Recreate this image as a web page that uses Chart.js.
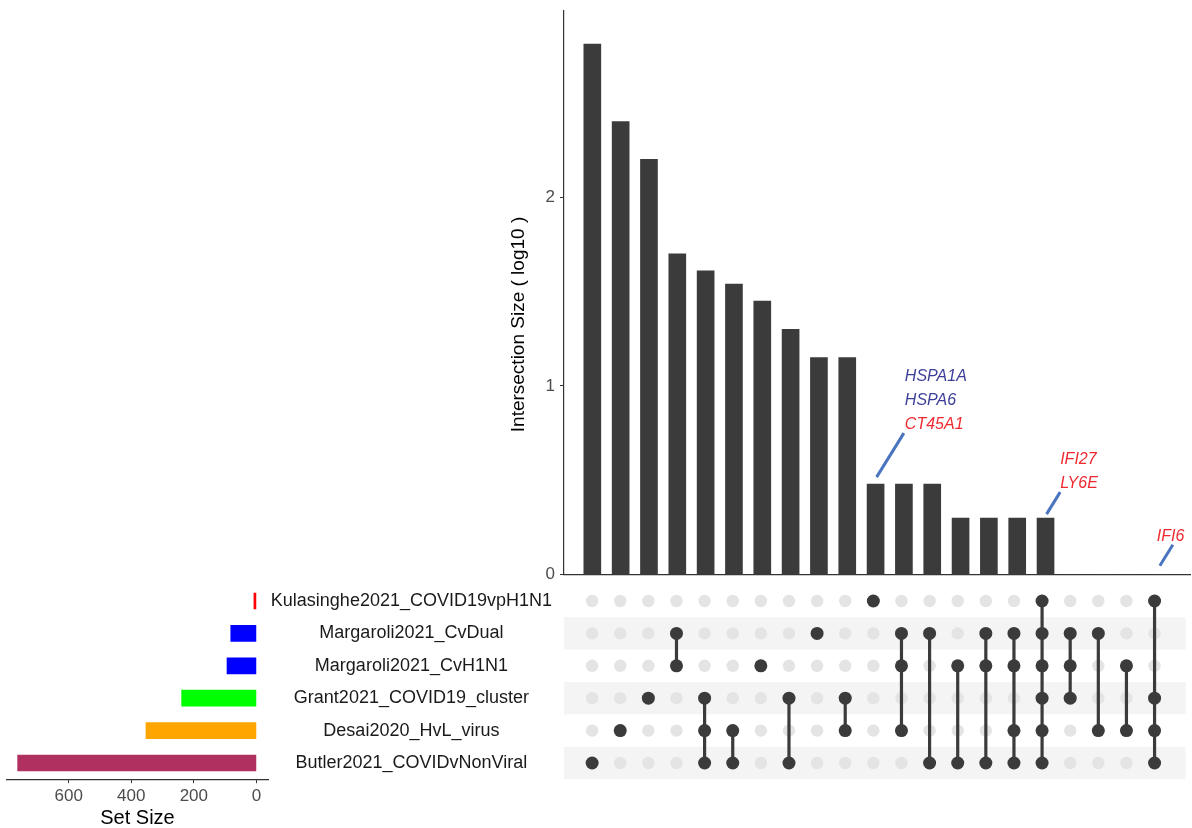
<!DOCTYPE html>
<html>
<head>
<meta charset="utf-8">
<script src="https://cdn.jsdelivr.net/npm/chart.js@4.4.1/dist/chart.umd.min.js"></script>
<style>
  html, body { margin: 0; padding: 0; background: #fff; }
  #wrap { position: relative; width: 1192px; height: 828px; overflow: hidden; }
  canvas { position: absolute; }
  #barsChart { left: 500px; top: -5px; }
  #matrixChart { left: 262px; top: 562px; }
  #setChart { left: 0px; top: 580px; }
</style>
</head>
<body>
<div id="wrap">
  <canvas id="barsChart" width="692" height="595"></canvas>
  <canvas id="matrixChart" width="930" height="240"></canvas>
  <canvas id="setChart" width="270" height="251"></canvas>
</div>
<script>
// UpSet plot - intersection sizes, membership matrix and set sizes

// Sets, listed top to bottom as in the matrix
const setNames = [
    'Kulasinghe2021_COVID19vpH1N1',
    'Margaroli2021_CvDual',
    'Margaroli2021_CvH1N1',
    'Grant2021_COVID19_cluster',
    'Desai2020_HvL_virus',
    'Butler2021_COVIDvNonViral'
];
const setSizes = [8, 82, 94, 239, 353, 763];
const setColors = ['#ff0000', '#0000ff', '#0000ff', '#00ff00', '#ffa500', '#b03060'];
const setSizeTicks = [0, 200, 400, 600];

// Intersections (columns), log10 of size, and which sets (row index) take part
const intersectionLog10 = [2.81, 2.40, 2.20, 1.70, 1.61, 1.54, 1.45, 1.30, 1.15, 1.15,
                           0.48, 0.48, 0.48, 0.30, 0.30, 0.30, 0.30, 0, 0, 0, 0];
const intersectionMembers = [
    [5], [4], [3], [1, 2], [3, 4, 5], [4, 5], [2], [3, 5], [1], [3, 4],
    [0], [1, 2, 4], [1, 5], [2, 5], [1, 2, 5], [1, 2, 4, 5], [0, 1, 2, 3, 4, 5],
    [1, 2, 3], [1, 4], [2, 4], [0, 3, 4, 5]
];
const intersectionTicks = [0, 1, 2];

// Gene labels on some intersections
const labelColumns = [10, 16, 20];
const labelGenes = [['HSPA1A', 'HSPA6', 'CT45A1'], ['IFI27', 'LY6E'], ['IFI6']];
const geneColors = {
    HSPA1A: '#3b3d99', HSPA6: '#3b3d99',
    CT45A1: '#ee2a30', IFI27: '#ee2a30', LY6E: '#ee2a30', IFI6: '#ee2a30'
};

// leader line styling per label
const leaderGap = [7, 4, 9];
const leaderLen = [44, 22, 21];
const textShift = [1, 0, -16];

const FONT = '"Liberation Sans", Arial, Helvetica, sans-serif';
Chart.defaults.font.family = FONT;
Chart.defaults.animation = false;

const columns = intersectionLog10.map((_, i) => i + 1);
const X_MIN = 0, X_MAX = 22.1;

// ---------- top: intersection size bars ----------
const leaderPlugin = {
    id: 'leaders',
    afterDatasetsDraw(chart) {
        const ctx = chart.ctx;
        const bars = chart.getDatasetMeta(0).data;
        labelColumns.forEach((col, k) => {
            const bar = bars[col];
            const x0 = bar.x + 1;
            const y0 = bar.y - leaderGap[k];
            const x1 = x0 + leaderLen[k] * 0.62;
            const y1 = y0 - leaderLen[k];
            ctx.save();
            ctx.strokeStyle = '#4a74c0';
            ctx.lineWidth = 3;
            ctx.beginPath();
            ctx.moveTo(x0, y0);
            ctx.lineTo(x1, y1);
            ctx.stroke();
            ctx.font = 'italic 16px ' + FONT;
            ctx.textAlign = 'left';
            ctx.textBaseline = 'alphabetic';
            const genes = labelGenes[k];
            genes.forEach((g, j) => {
                ctx.fillStyle = geneColors[g];
                ctx.fillText(g, x1 + textShift[k], y1 - 4 - (genes.length - 1 - j) * 24);
            });
            ctx.restore();
        });
    },
    afterDraw(chart) {
        // y axis title, placed like the original (a bit below the middle)
        const s = chart.scales.y;
        const ctx = chart.ctx;
        ctx.save();
        ctx.translate(s.left + 19, (s.top + s.bottom) / 2 + 32);
        ctx.rotate(-Math.PI / 2);
        ctx.textAlign = 'center';
        ctx.textBaseline = 'middle';
        ctx.font = '19px ' + FONT;
        ctx.fillStyle = '#000';
        ctx.fillText('Intersection Size ( log10 )', 0, 0);
        ctx.restore();
    }
};

new Chart(document.getElementById('barsChart'), {
    type: 'bar',
    data: {
        datasets: [{
            data: columns.map((x, i) => ({ x: x, y: intersectionLog10[i] })),
            backgroundColor: '#3b3b3b',
            barThickness: 17
        }]
    },
    options: {
        responsive: false,
        layout: { padding: { top: 0, right: 2, left: 0, bottom: 0 } },
        plugins: { legend: { display: false }, tooltip: { enabled: false } },
        scales: {
            x: {
                type: 'linear',
                min: X_MIN,
                max: X_MAX,
                offset: false,
                grid: { display: false },
                border: { display: true, color: '#333', width: 1.2 },
                ticks: { display: false },
                afterFit: s => { s.height = 15; }
            },
            y: {
                min: 0,
                max: 2.99,
                grid: { drawOnChartArea: false, drawTicks: true, tickLength: 4, color: '#333' },
                border: { display: true, color: '#333', width: 1.2 },
                ticks: { color: '#4d4d4d', font: { size: 17 }, padding: 5 },
                afterBuildTicks: s => { s.ticks = intersectionTicks.map(v => ({ value: v })); },
                afterFit: s => { s.width = 64; }
            }
        }
    },
    plugins: [leaderPlugin]
});

// ---------- membership matrix ----------
const stripePlugin = {
    id: 'stripes',
    beforeDatasetsDraw(chart) {
        const { ctx, chartArea } = chart;
        const y = chart.scales.y;
        const half = Math.abs(y.getPixelForValue(1) - y.getPixelForValue(0)) / 2;
        ctx.save();
        ctx.fillStyle = '#f4f4f4';
        setNames.forEach((n, r) => {
            if (r % 2 === 1) {
                const yc = y.getPixelForValue(r);
                ctx.fillRect(chartArea.left, yc - half, chartArea.width, half * 2);
            }
        });
        ctx.restore();
    }
};

const allDots = [];
columns.forEach(c => setNames.forEach(n => allDots.push({ x: c, y: n })));
const activeDots = intersectionMembers.flatMap((m, i) => m.map(r => ({ x: columns[i], y: setNames[r] })));
const linkSets = [];
intersectionMembers.forEach((m, i) => {
    if (m.length > 1) {
        linkSets.push({
            data: [
                { x: columns[i], y: setNames[Math.min(...m)] },
                { x: columns[i], y: setNames[Math.max(...m)] }
            ],
            showLine: true,
            borderColor: '#3b3b3b',
            borderWidth: 3.2,
            pointRadius: 0,
            order: 1
        });
    }
});

new Chart(document.getElementById('matrixChart'), {
    type: 'scatter',
    data: {
        datasets: [
            { data: activeDots, pointRadius: 6.5, backgroundColor: '#3b3b3b', borderWidth: 0, order: 0 },
            ...linkSets,
            { data: allDots, pointRadius: 6.2, backgroundColor: '#e4e4e4', borderWidth: 0, order: 2 }
        ]
    },
    options: {
        responsive: false,
        layout: { padding: { top: 0, bottom: 0, right: 2, left: 0 } },
        plugins: { legend: { display: false }, tooltip: { enabled: false } },
        scales: {
            x: { type: 'linear', min: X_MIN, max: X_MAX, display: false },
            y: {
                type: 'category',
                labels: setNames,
                offset: true,
                grid: { display: false, drawTicks: false },
                border: { display: false },
                ticks: { color: '#1a1a1a', font: { size: 18 }, crossAlign: 'center', padding: 12 },
                afterFit: s => { s.width = 302; }
            }
        }
    },
    plugins: [stripePlugin]
});

// ---------- set size bars ----------
new Chart(document.getElementById('setChart'), {
    type: 'bar',
    data: {
        labels: setNames,
        datasets: [{
            data: setSizes,
            backgroundColor: setColors,
            barThickness: 16
        }]
    },
    options: {
        responsive: false,
        indexAxis: 'y',
        layout: { padding: { top: 4.8, left: 7, right: 2, bottom: 0 } },
        plugins: { legend: { display: false }, tooltip: { enabled: false } },
        scales: {
            y: { type: 'category', offset: true, display: false },
            x: {
                type: 'linear',
                reverse: true,
                min: -37,
                max: 797,
                grid: { drawOnChartArea: false, drawTicks: true, tickLength: 4, color: '#333' },
                border: { display: true, color: '#333', width: 1.2 },
                ticks: { color: '#4d4d4d', font: { size: 17 }, padding: 3, maxRotation: 0 },
                title: { display: true, text: 'Set Size', color: '#000', font: { size: 20 }, padding: { top: 0, bottom: 1 } },
                afterBuildTicks: s => { s.ticks = setSizeTicks.map(v => ({ value: v })); },
                afterFit: s => { s.height = 51.8; }
            }
        }
    }
});
</script>
</body>
</html>
